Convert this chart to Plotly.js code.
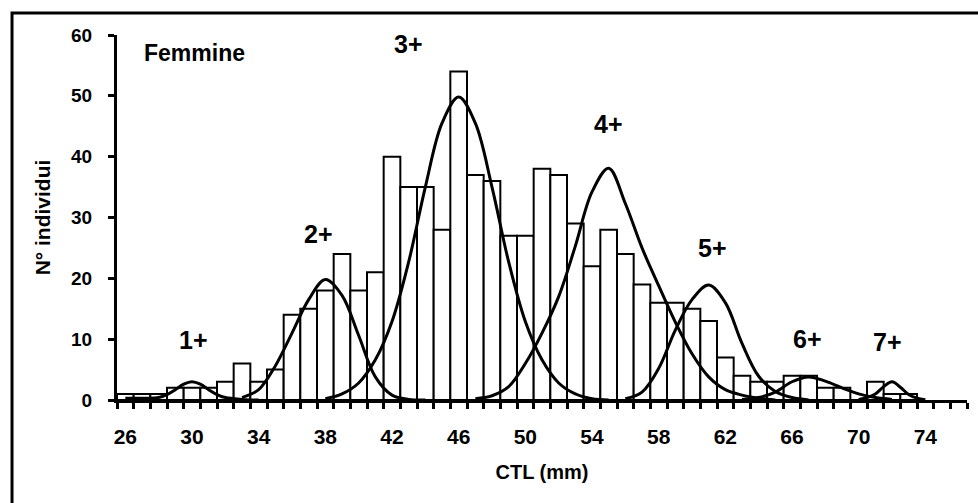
<!DOCTYPE html>
<html>
<head>
<meta charset="utf-8">
<script src="https://cdn.plot.ly/plotly-3.0.1.min.js"></script>
<style>html,body{margin:0;padding:0;background:#fff;}#chart{width:978px;height:503px;}</style>
</head>
<body>
<div id="chart"></div>
<script>
// Histogram: CTL (mm) classes and number of individuals
const ctl = [26,27,28,29,30,31,32,33,34,35,36,37,38,39,40,41,42,43,44,45,46,47,48,49,50,51,52,53,54,55,56,57,58,59,60,61,62,63,64,65,66,67,68,69,70,71,72,73];
const counts = [1,1,1,2,2,2,3,6,3,5,14,15,18,24,18,21,40,35,35,28,54,37,36,27,27,38,37,29,22,28,24,19,16,16,15,13,7,4,3,3,4,4,2,2,0,3,1,1];

// Fitted age-class curves
const c1x = [26,27,28,28.5,29,29.5,30,30.5,31,31.5,32,33,34];
const c1y = [0.3,0.3,0.4,0.9,1.7,2.6,3.0,2.6,1.7,0.9,0.4,0.1,0];
const c2x = [33,34,35,36,37,38,39,40,41,42,43,44];
const c2y = [0.4,1.7,5.6,11,16.5,19.8,17.2,10.6,3.8,0.8,0.1,0];
const c3x = [38,39,40,41,42,43,44,45,46,47,48,49,50,51,52,53,54,55];
const c3y = [0.2,1.0,2.8,6.6,12.9,22.7,35,45.5,49.8,45.5,35,22.7,12.9,6.6,2.8,1.0,0.2,0];
const c4x = [47,48,49,50,51,52,53,54,55,56,57,58,59,60,61,62,63,64,65];
const c4y = [0.2,0.7,2.2,6,11,17,25.3,34.2,38.1,32.3,25,18.8,12.8,7.6,3.8,1.7,0.8,0.3,0];
const c5x = [56,57,58,59,60,61,62,63,64,65,66,67];
const c5y = [0.2,1.3,5.2,11.5,16.5,18.9,16,9.3,3.9,1.4,0.4,0];
const c6x = [63,64,65,66,67,68,69,70,71,72];
const c6y = [0.1,0.4,1.3,3.0,3.8,3.1,2.0,1.0,0.4,0.1];
const c7x = [70,70.5,71,71.5,72,72.5,73,73.5,74];
const c7y = [0.1,0.4,1.0,2.2,3.0,2.1,0.9,0.3,0.05];

// Axis tick labels
const xTickVals = [26,30,34,38,42,46,50,54,58,62,66,70,74];
const yTickVals = [0,10,20,30,40,50,60];

// Age-class labels
const classLabels = ['1+','2+','3+','4+','5+','6+','7+'];
const classLabelX = [30.1,37.6,43.0,55.0,61.2,66.9,71.7];
const classLabelY = [9.9,27.3,58.5,45.4,25.0,10.0,9.5];

const FONT = 'Liberation Sans, Arial, sans-serif';

const traces = [{
  type: 'bar', x: ctl, y: counts, width: 1,
  marker: {color: '#ffffff', line: {color: '#000000', width: 2}},
  hoverinfo: 'x+y', showlegend: false
}];
[[c1x,c1y],[c2x,c2y],[c3x,c3y],[c4x,c4y],[c5x,c5y],[c6x,c6y],[c7x,c7y]].forEach(function(c){
  traces.push({type: 'scatter', mode: 'lines', x: c[0], y: c[1],
    line: {color: '#000000', width: 3, shape: 'spline', smoothing: 1},
    showlegend: false, hoverinfo: 'skip'});
});

const annotations = classLabels.map(function(t, i){
  return {x: classLabelX[i], y: classLabelY[i], xref: 'x', yref: 'y', text: '<b>' + t + '</b>',
    showarrow: false, xanchor: 'center', yanchor: 'middle',
    font: {family: FONT, size: 25, color: '#000'}};
});
annotations.push({x: 0.0294, y: 0.951, xref: 'paper', yref: 'paper', text: '<b>Femmine</b>',
  showarrow: false, xanchor: 'left', yanchor: 'middle', font: {family: FONT, size: 23, color: '#000'}});

const layout = {
  width: 978, height: 503,
  margin: {l: 117, r: 11, t: 35, b: 103},
  paper_bgcolor: '#ffffff', plot_bgcolor: '#ffffff',
  bargap: 0,
  showlegend: false,
  xaxis: {
    range: [25.5, 76.5], showgrid: false, zeroline: false,
    showline: true, linecolor: '#000', linewidth: 3,
    tickmode: 'array', tickvals: xTickVals, ticktext: xTickVals.map(String),
    ticks: '', ticklabelstandoff: 16,
    tickfont: {family: FONT, size: 21, color: '#000', weight: 'bold'},
    minor: {tick0: 25.5, dtick: 1, ticks: 'outside', ticklen: 6, tickwidth: 3, tickcolor: '#000', showgrid: false},
    title: {text: '<b>CTL (mm)</b>', font: {family: FONT, size: 20, color: '#000'}, standoff: 18}
  },
  yaxis: {
    range: [0, 60], showgrid: false, zeroline: false,
    showline: true, linecolor: '#000', linewidth: 3,
    tickmode: 'array', tickvals: yTickVals,
    ticks: 'outside', ticklen: 6, tickwidth: 3, tickcolor: '#000', ticklabelstandoff: 12,
    tickfont: {family: FONT, size: 19, color: '#000', weight: 'bold'},
    title: {text: '<b>N° individui</b>', font: {family: FONT, size: 21, color: '#000'}, standoff: 15}
  },
  annotations: annotations,
  shapes: [{type: 'rect', xref: 'paper', yref: 'paper', x0: -0.1235, x1: 1.03, y0: -0.33, y1: 1.06,
    line: {color: '#000', width: 3}, fillcolor: 'rgba(0,0,0,0)', layer: 'below'}]
};

Plotly.newPlot('chart', traces, layout, {displayModeBar: false, staticPlot: true});
</script>
</body>
</html>
